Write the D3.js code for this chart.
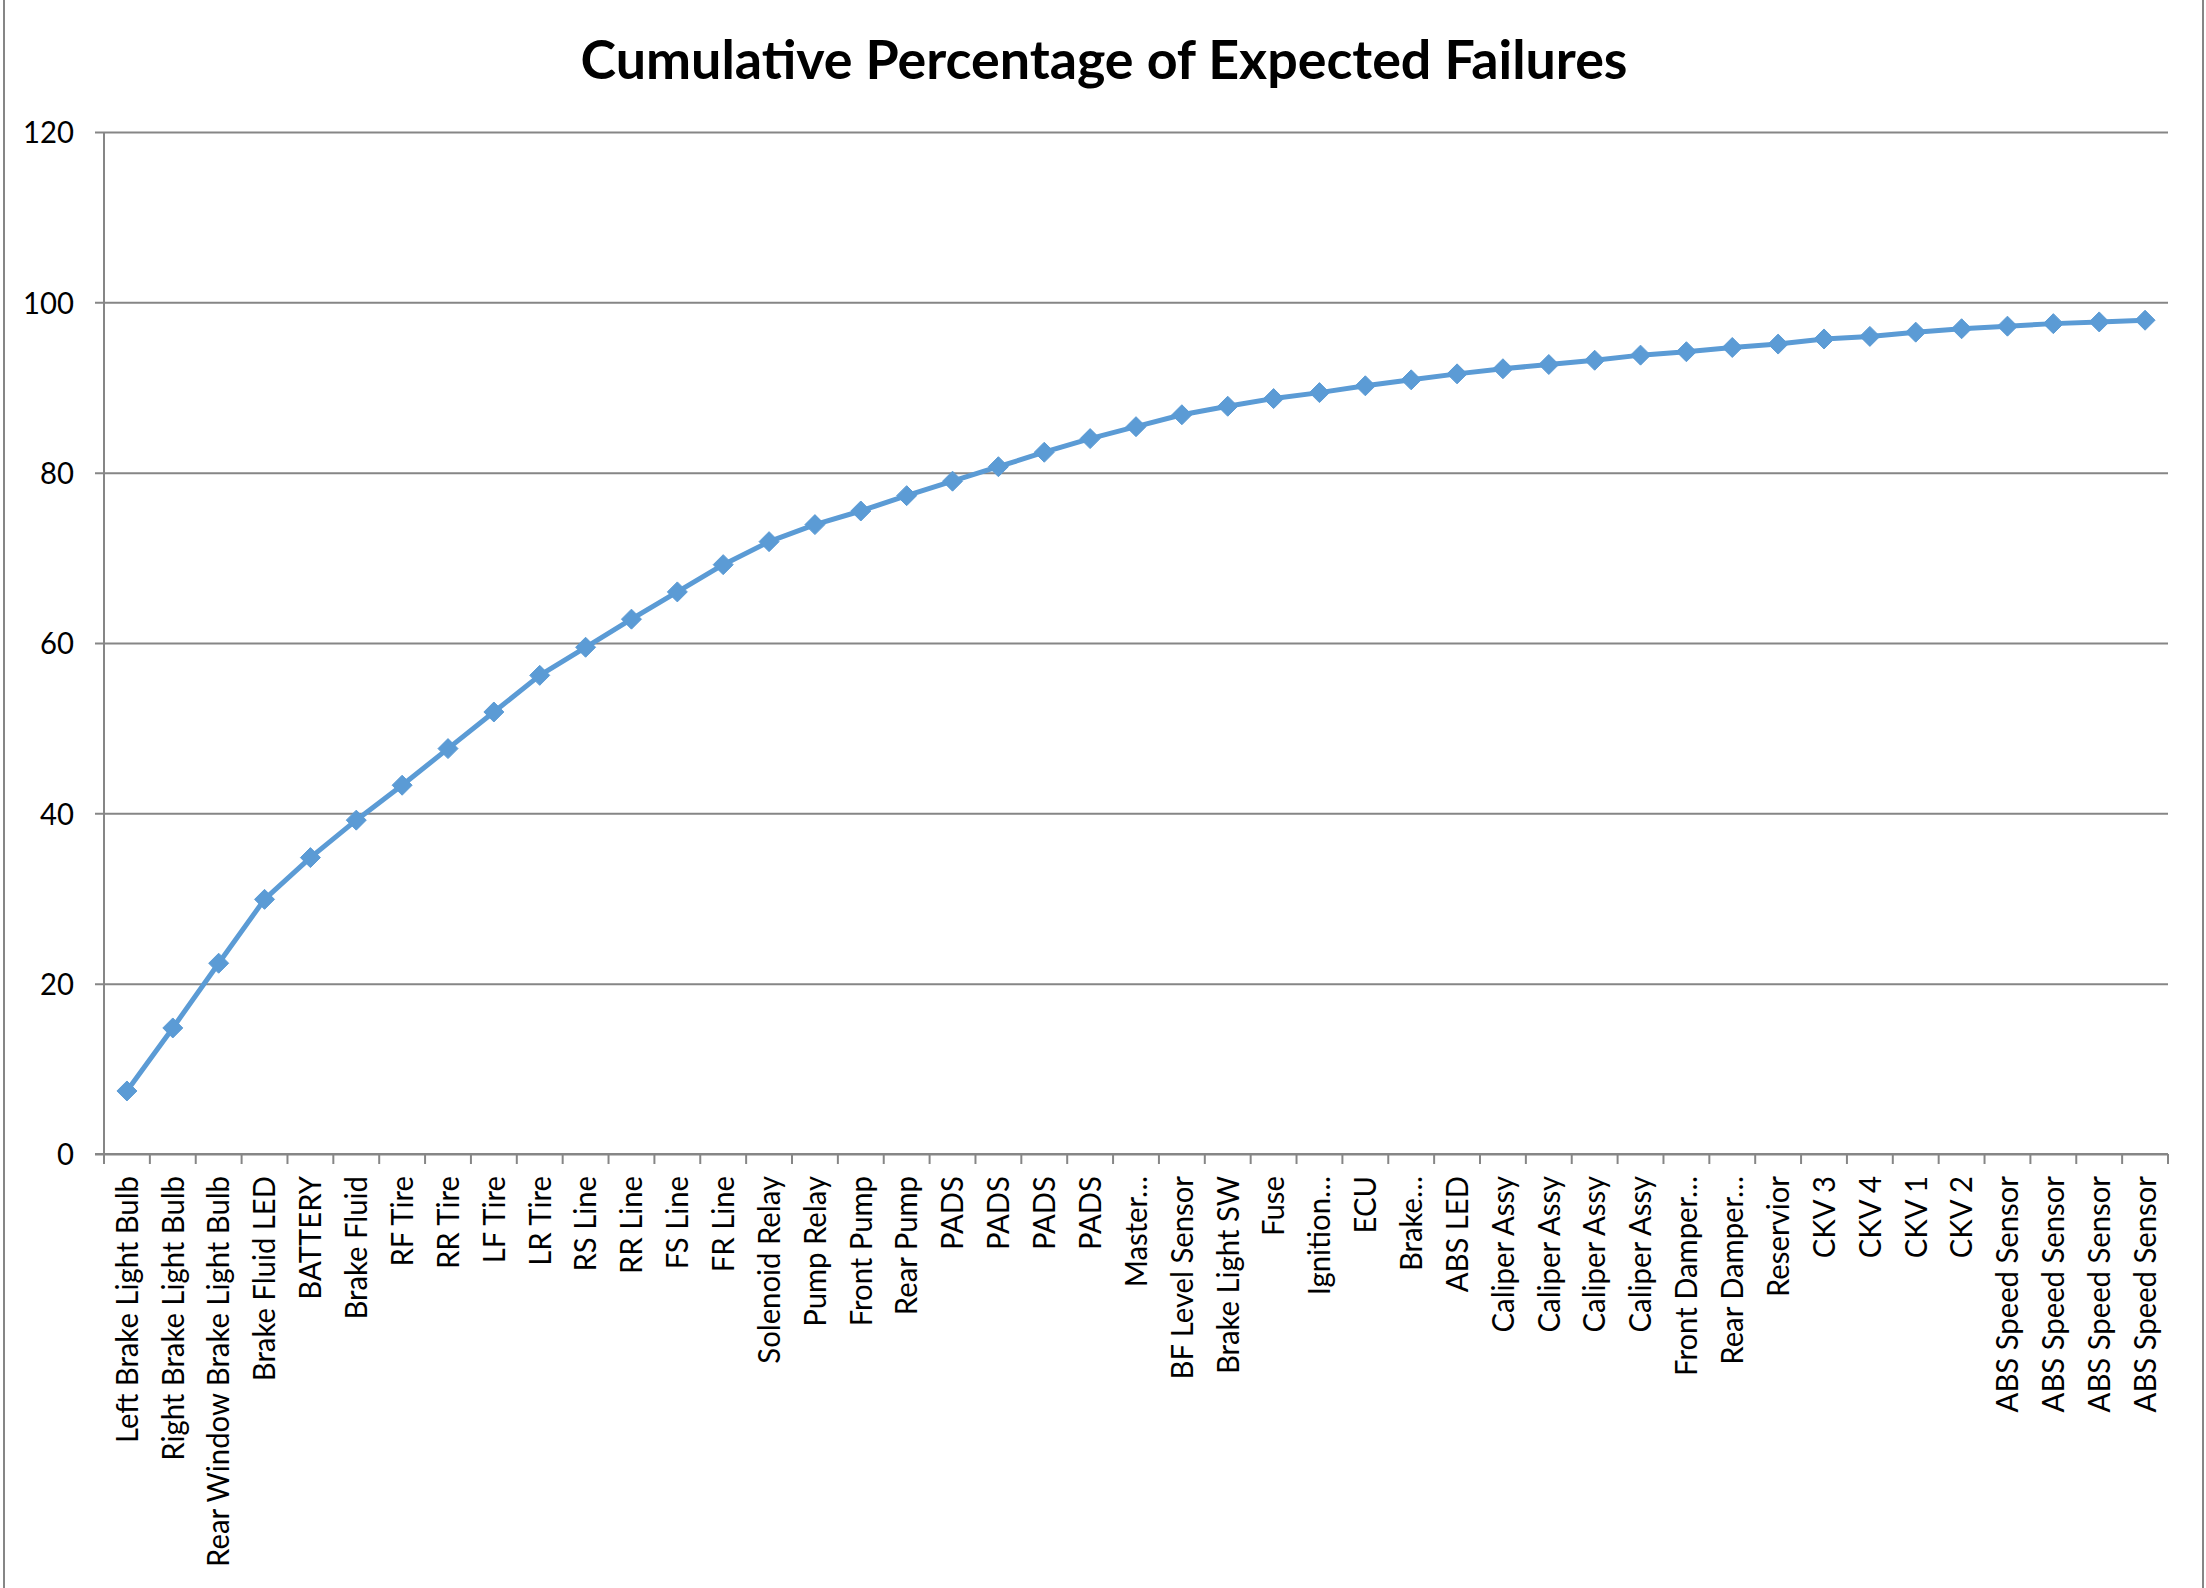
<!DOCTYPE html>
<html>
<head>
<meta charset="utf-8">
<script src="https://cdn.jsdelivr.net/npm/d3@7"></script>
<style>
  html, body { margin: 0; padding: 0; background: #fff; }
  svg { display: block; }
</style>
</head>
<body>
<svg id="chart" width="2206" height="1588"></svg>
<script>
// ---------------- data ----------------
const title = "Cumulative Percentage of Expected Failures";
const categories = [
  "Left Brake Light Bulb", "Right Brake Light Bulb", "Rear Window Brake Light Bulb",
  "Brake Fluid LED", "BATTERY", "Brake Fluid", "RF Tire", "RR Tire", "LF Tire", "LR Tire",
  "RS Line", "RR Line", "FS Line", "FR Line", "Solenoid Relay", "Pump Relay", "Front Pump",
  "Rear Pump", "PADS", "PADS", "PADS", "PADS", "Master…", "BF Level Sensor", "Brake Light SW",
  "Fuse", "Ignition…", "ECU", "Brake…", "ABS LED", "Caliper Assy", "Caliper Assy",
  "Caliper Assy", "Caliper Assy", "Front Damper…", "Rear Damper…", "Reservior",
  "CKV 3", "CKV 4", "CKV 1", "CKV 2", "ABS Speed Sensor", "ABS Speed Sensor",
  "ABS Speed Sensor", "ABS Speed Sensor"
];
const cumulativePct = [
  7.4, 14.8, 22.4, 29.9, 34.8, 39.2, 43.3, 47.6, 51.9, 56.2,
  59.5, 62.8, 66.0, 69.2, 71.9, 73.9, 75.5, 77.3, 79.0, 80.7,
  82.4, 84.0, 85.4, 86.8, 87.8, 88.7, 89.4, 90.2, 90.9, 91.6,
  92.2, 92.7, 93.2, 93.8, 94.2, 94.7, 95.1, 95.7, 96.0, 96.5,
  96.9, 97.2, 97.5, 97.7, 97.9
];
const yTicks = [0, 20, 40, 60, 80, 100, 120];

// ---------------- layout ----------------
const W = 2206, H = 1588;
const plot = { left: 104, right: 2168, top: 132, bottom: 1154 };
const gridColor = "#868686";
const lineColor = "#5B9BD5";
const font = "Lato, 'Open Sans', 'Liberation Sans', sans-serif";
const labelSize = 30;

const svg = d3.select("#chart");

// chart-area border (left/right edges visible)
svg.append("rect")
  .attr("x", 4).attr("y", -10).attr("width", 2199).attr("height", H + 20)
  .attr("fill", "none").attr("stroke", gridColor).attr("stroke-width", 2);

const x = d3.scaleBand().domain(d3.range(categories.length))
  .range([plot.left, plot.right]).paddingInner(0).paddingOuter(0);
const y = d3.scaleLinear().domain([0, 120]).range([plot.bottom, plot.top]);

// measurement helper for stretch factor (Calibri-like widths)
const meas = svg.append("text").attr("font-family", font).attr("font-size", labelSize)
  .text("Left Brake Light Bulb");
const k = 267 / meas.node().getComputedTextLength();
meas.remove();

// title
svg.append("text")
  .attr("x", 1104).attr("y", 79)
  .attr("text-anchor", "middle")
  .attr("font-family", font).attr("font-weight", "bold").attr("font-size", 54)
  .attr("fill", "#000")
  .attr("textLength", 1047).attr("lengthAdjust", "spacingAndGlyphs")
  .text(title);

// gridlines via y axis
const yAxis = d3.axisLeft(y).tickValues(yTicks)
  .tickSize(-(plot.right - plot.left)).tickSizeOuter(0).tickPadding(30);
const gy = svg.append("g").attr("transform", `translate(${plot.left},0)`).call(yAxis);
gy.select(".domain").remove();
gy.selectAll(".tick line").attr("stroke", gridColor).attr("stroke-width", 2)
  .attr("x1", -9);
gy.selectAll(".tick text")
  .attr("font-family", font).attr("font-size", labelSize).attr("fill", "#000")
  .attr("dy", "0.36em")
  .each(function () {
    const n = this.getComputedTextLength();
    d3.select(this).attr("textLength", n * k).attr("lengthAdjust", "spacingAndGlyphs");
  });

// y axis line
svg.append("line")
  .attr("x1", plot.left).attr("x2", plot.left)
  .attr("y1", plot.top).attr("y2", plot.bottom)
  .attr("stroke", gridColor).attr("stroke-width", 2);

// x axis
const xAxis = d3.axisBottom(x).tickSize(0).tickFormat(i => categories[i]);
const gx = svg.append("g").attr("transform", `translate(0,${plot.bottom})`).call(xAxis);
gx.select(".domain").attr("stroke", gridColor).attr("stroke-width", 2)
  .attr("d", `M${plot.left - 9},0H${plot.right}`);
gx.selectAll(".tick text")
  .attr("font-family", font).attr("font-size", labelSize).attr("fill", "#000")
  .attr("text-anchor", "end")
  .attr("transform", "rotate(-90)")
  .attr("x", -22).attr("y", 0).attr("dy", "0.36em")
  .each(function () {
    const n = this.getComputedTextLength();
    d3.select(this).attr("textLength", n * k).attr("lengthAdjust", "spacingAndGlyphs");
  });

// category boundary tick marks
const boundaries = d3.range(categories.length + 1).map(i =>
  i < categories.length ? x(i) : x(categories.length - 1) + x.bandwidth());
svg.append("g").selectAll("line").data(boundaries).join("line")
  .attr("x1", d => d).attr("x2", d => d)
  .attr("y1", plot.bottom).attr("y2", plot.bottom + 10)
  .attr("stroke", gridColor).attr("stroke-width", 2);

// line series
const cx = i => x(i) + x.bandwidth() / 2;
const line = d3.line().x((d, i) => cx(i)).y(d => y(d));
svg.append("path").datum(cumulativePct)
  .attr("d", line).attr("fill", "none")
  .attr("stroke", lineColor).attr("stroke-width", 5)
  .attr("stroke-linejoin", "round");

// diamond markers
const r = 10;
svg.append("g").selectAll("path").data(cumulativePct).join("path")
  .attr("transform", (d, i) => `translate(${cx(i)},${y(d)})`)
  .attr("d", `M0,${-r}L${r},0L0,${r}L${-r},0Z`)
  .attr("fill", lineColor).attr("stroke", lineColor).attr("stroke-width", 1);
</script>
</body>
</html>
